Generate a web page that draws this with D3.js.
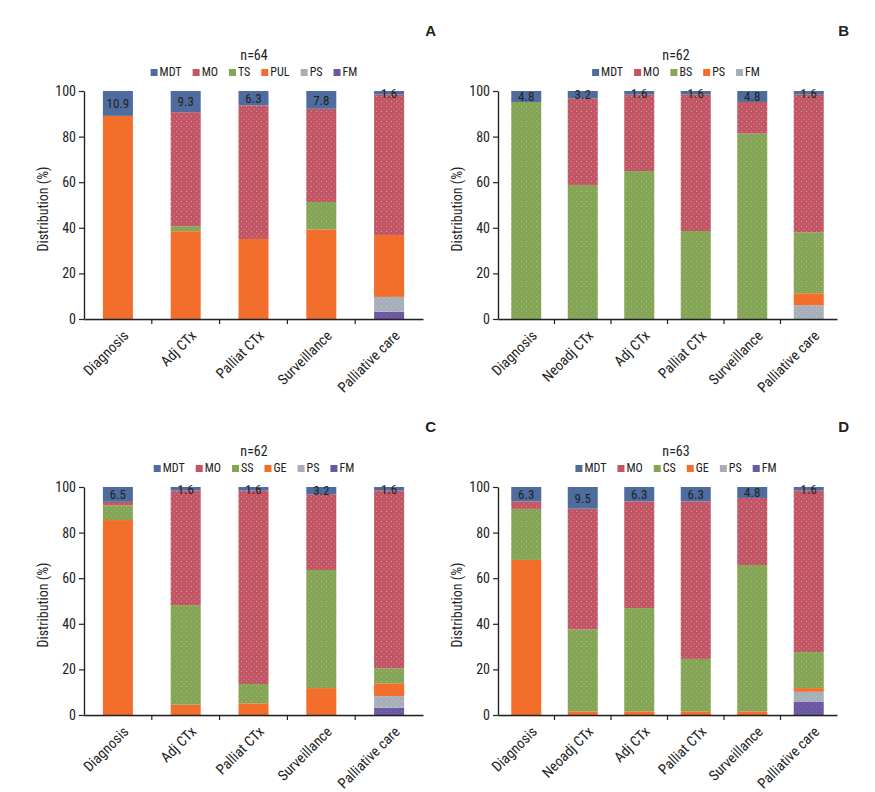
<!DOCTYPE html>
<html><head><meta charset="utf-8">
<script src="https://cdn.jsdelivr.net/npm/d3@7"></script>
<style>
body{margin:0;background:#fff}
text{font-family:"Liberation Sans Narrow","Roboto Condensed","Arial Narrow",Roboto,sans-serif;fill:#222}
</style></head>
<body><svg id="c" width="875" height="792"></svg>
<script>
// ---------- DATA ----------
const yTicks = [0, 20, 40, 60, 80, 100];

// Panel A (n=64)
const catsA = ["Diagnosis", "Adj CTx", "Palliat CTx", "Surveillance", "Palliative care"];
const legendA = ["MDT", "MO", "TS", "PUL", "PS", "FM"];
const mdtA = [10.9, 9.3, 6.3, 7.8, 1.6];
const moA  = [0, 50.0, 58.6, 40.9, 61.6];
const tsA  = [0, 2.2, 0, 12.0, 0];
const pulA = [89.1, 38.5, 35.1, 39.3, 27.1];
const psA  = [0, 0, 0, 0, 6.5];
const fmA  = [0, 0, 0, 0, 3.2];

// Panel B (n=62)
const catsB = ["Diagnosis", "Neoadj CTx", "Adj CTx", "Palliat CTx", "Surveillance", "Palliative care"];
const legendB = ["MDT", "MO", "BS", "PS", "FM"];
const mdtB = [4.8, 3.2, 1.6, 1.6, 4.8, 1.6];
const moB  = [0, 38.0, 33.5, 59.8, 13.9, 60.4];
const bsB  = [95.2, 58.8, 64.9, 38.6, 81.3, 26.7];
const psB  = [0, 0, 0, 0, 0, 5.3];
const fmB  = [0, 0, 0, 0, 0, 6.0];

// Panel C (n=62)
const catsC = ["Diagnosis", "Adj CTx", "Palliat CTx", "Surveillance", "Palliative care"];
const legendC = ["MDT", "MO", "SS", "GE", "PS", "FM"];
const mdtC = [6.5, 1.6, 1.6, 3.2, 1.6];
const moC  = [1.5, 50.2, 84.8, 33.2, 77.9];
const ssC  = [6.5, 43.7, 8.5, 51.8, 6.6];
const geC  = [85.5, 4.5, 5.1, 11.8, 5.6];
const psC  = [0, 0, 0, 0, 5.1];
const fmC  = [0, 0, 0, 0, 3.2];

// Panel D (n=63)
const catsD = ["Diagnosis", "Neoadj CTx", "Adj CTx", "Palliat CTx", "Surveillance", "Palliative care"];
const legendD = ["MDT", "MO", "CS", "GE", "PS", "FM"];
const mdtD = [6.3, 9.5, 6.3, 6.3, 4.8, 1.6];
const moD  = [3.3, 53.0, 46.8, 69.1, 29.4, 70.8];
const csD  = [22.4, 35.9, 45.3, 23.0, 64.2, 15.8];
const geD  = [68.0, 1.6, 1.6, 1.6, 1.6, 1.6];
const psD  = [0, 0, 0, 0, 0, 4.5];
const fmD  = [0, 0, 0, 0, 0, 5.7];

// ---------- STYLE ----------
const C = {blue:"#4f6c9e", red:"#c25563", green:"#84a553", orange:"#f36d2b", gray:"#a6aeb9", purple:"#6c57a3"};
const dotCol = {blue:"#6a84b0", red:"#dba7aa", green:"#a9bfa0", orange:"#e0703a", gray:"#c3c9d0", purple:"#8676b4"};

const panels = [
  {letter:"A", n:"n=64", cats:catsA, legend:legendA, series:[mdtA,moA,tsA,pulA,psA,fmA],
   colors:["blue","red","green","orange","gray","purple"], x0:84, x1:423, yTop:91, yBot:319, titleX:254, letterX:436, letterY:36, yTitleX:48},
  {letter:"B", n:"n=62", cats:catsB, legend:legendB, series:[mdtB,moB,bsB,psB,fmB],
   colors:["blue","red","green","orange","gray"], x0:498, x1:837, yTop:91, yBot:319, titleX:676, letterX:849, letterY:36, yTitleX:462},
  {letter:"C", n:"n=62", cats:catsC, legend:legendC, series:[mdtC,moC,ssC,geC,psC,fmC],
   colors:["blue","red","green","orange","gray","purple"], x0:84, x1:423, yTop:487, yBot:715, titleX:254, letterX:436, letterY:432, yTitleX:48},
  {letter:"D", n:"n=63", cats:catsD, legend:legendD, series:[mdtD,moD,csD,geD,psD,fmD],
   colors:["blue","red","green","orange","gray","purple"], x0:498, x1:837, yTop:487, yBot:715, titleX:676, letterX:849, letterY:432, yTitleX:462}
];

const svg = d3.select("#c");
const defs = svg.append("defs");
Object.keys(C).forEach(k => {
  const p = defs.append("pattern").attr("id","pat-"+k).attr("patternUnits","userSpaceOnUse")
    .attr("width",5).attr("height",5);
  p.append("rect").attr("width",5).attr("height",5).attr("fill",C[k]);
  if (k !== "blue") {
    const op = (k === "orange") ? 0.35 : 0.9;
    p.append("rect").attr("x",1).attr("y",1).attr("width",1).attr("height",1).attr("fill",dotCol[k]).attr("opacity",op);
    if (k !== "orange") p.append("rect").attr("x",3.5).attr("y",3.5).attr("width",1).attr("height",1).attr("fill",dotCol[k]).attr("opacity",0.7);
  }
});

panels.forEach(P => {
  const g = svg.append("g");
  const x = d3.scaleBand().domain(P.cats).range([P.x0, P.x1]).padding(0);
  const y = d3.scaleLinear().domain([0, 100]).range([P.yBot, P.yTop]);
  const barW = 30;

  const keys = P.legend.slice().reverse(); // bottom -> top
  const rows = P.cats.map((c, i) => {
    const r = {cat: c};
    P.legend.forEach((k, j) => r[k] = P.series[j][i]);
    return r;
  });
  const stack = d3.stack().keys(keys)(rows);
  const colorOf = k => P.colors[P.legend.indexOf(k)];

  stack.forEach(layer => {
    g.append("g").selectAll("rect").data(layer).join("rect")
      .attr("x", d => x(d.data.cat) + x.bandwidth()/2 - barW/2)
      .attr("width", barW)
      .attr("y", d => y(d[1]))
      .attr("height", d => Math.max(0, y(d[0]) - y(d[1])))
      .attr("fill", "url(#pat-" + colorOf(layer.key) + ")");
  });

  // MDT labels
  const top = stack[stack.length - 1];
  g.append("g").selectAll("text").data(top).join("text")
    .attr("x", d => x(d.data.cat) + x.bandwidth()/2)
    .attr("y", d => (y(d[0]) + y(d[1]))/2)
    .attr("dy", "0.36em")
    .attr("text-anchor", "middle")
    .style("font-size", "13px")
    .text(d => d.data.MDT.toFixed(1));

  // Y axis
  const ya = g.append("g").attr("transform", `translate(${P.x0},0)`)
    .call(d3.axisLeft(y).tickValues(yTicks).tickSize(5).tickSizeOuter(0).tickPadding(3));
  ya.select(".domain").attr("stroke", "#222").attr("stroke-width", 1.4);
  ya.selectAll(".tick line").attr("stroke", "#222").attr("stroke-width", 1.2);
  ya.selectAll("text").style("font-size", "14px").style("font-family", null).attr("fill", "#222");

  // X axis
  const xa = g.append("g").attr("transform", `translate(0,${P.yBot})`)
    .call(d3.axisBottom(x).tickSize(0).tickSizeOuter(0).tickFormat(""));
  xa.select(".domain").attr("stroke", "#222").attr("stroke-width", 1.4);
  xa.selectAll(".tick").remove();
  g.append("line").attr("x1", P.x0).attr("x2", P.x1).attr("y1", P.yBot + 1.5).attr("y2", P.yBot + 1.5)
    .attr("stroke", "#bbb").attr("stroke-width", 1);
  g.append("g").selectAll("line").data(P.cats.slice(1)).join("line")
    .attr("x1", d => x(d)).attr("x2", d => x(d))
    .attr("y1", P.yBot).attr("y2", P.yBot + 5)
    .attr("stroke", "#222").attr("stroke-width", 1.2);

  g.append("g").selectAll("text").data(P.cats).join("text")
    .attr("transform", d => `translate(${x(d) + x.bandwidth()/2 + 8},${P.yBot + 14}) rotate(-45)`)
    .attr("text-anchor", "end")
    .attr("dy", "0.35em")
    .style("font-size", "14.5px")
    .text(d => d);

  // Y title
  g.append("text")
    .attr("transform", `translate(${P.yTitleX},${(P.yTop + P.yBot)/2 + 4}) rotate(-90)`)
    .attr("text-anchor", "middle")
    .style("font-size", "14px")
    .text("Distribution (%)");

  // n title
  g.append("text").attr("x", P.titleX).attr("y", P.yTop - 31)
    .attr("text-anchor", "middle").style("font-size", "14px").text(P.n);

  // panel letter
  g.append("text").attr("x", P.letterX).attr("y", P.letterY)
    .attr("text-anchor", "end")
    .style("font-family", "'Liberation Sans',Arial,sans-serif")
    .style("font-weight", "bold").style("font-size", "15px").text(P.letter);

  // legend
  const lg = g.append("g");
  const items = lg.selectAll("g").data(P.legend).join("g");
  items.append("rect").attr("width", 7).attr("height", 7).attr("y", -7)
    .attr("fill", d => C[colorOf(d)]);
  items.append("text").attr("x", 9).attr("y", 0).style("font-size", "12px").text(d => d);
  let cx = 0;
  items.each(function() {
    const w = this.getBBox().width;
    d3.select(this).attr("transform", `translate(${cx},0)`);
    cx += w + 11;
  });
  const total = cx - 11;
  lg.attr("transform", `translate(${P.titleX - total/2},${P.yTop - 15})`);
});
</script></body></html>
